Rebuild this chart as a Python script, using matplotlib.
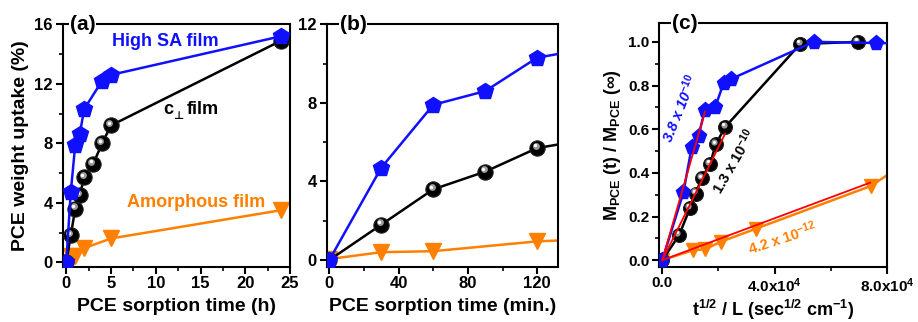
import matplotlib
matplotlib.use("Agg")
import matplotlib.pyplot as plt
import matplotlib.transforms as mtransforms
from matplotlib.ticker import MultipleLocator

plt.rcParams["font.family"] = ["Liberation Sans", "DejaVu Sans"]
plt.rcParams["font.weight"] = "bold"
plt.rcParams["mathtext.fontset"] = "custom"
plt.rcParams["mathtext.rm"] = "Liberation Sans:bold"
plt.rcParams["mathtext.bf"] = "Liberation Sans:bold"
plt.rcParams["mathtext.it"] = "Liberation Sans:bold:italic"
plt.rcParams["mathtext.default"] = "rm"

BLUE = "#1010ff"
ORANGE = "#ff8000"
RED = "#ff0000"

# uptake vs time (hours); panel (b) is the same data in minutes
high_sa_t = [0, 0.5, 1, 1.5, 2, 4, 5, 24]
high_sa_w = [0, 4.7, 7.9, 8.6, 10.3, 12.2, 12.6, 15.2]
cperp_t = [0, 0.5, 1, 1.5, 2, 3, 4, 5, 24]
cperp_w = [0, 1.8, 3.6, 4.5, 5.7, 6.6, 8.0, 9.2, 14.9]
amorph_t = [0, 0.5, 1, 2, 5, 24]
amorph_w = [0.05, 0.4, 0.45, 0.95, 1.6, 3.5]

# normalised uptake vs t^1/2 / L
high_sa_x = [0, 0.75e4, 1.05e4, 1.29e4, 1.52e4, 1.88e4, 2.18e4, 2.45e4, 5.39e4, 7.6e4, 9.5e4]
high_sa_m = [0, 0.31, 0.52, 0.57, 0.69, 0.70, 0.81, 0.83, 1.0, 0.995, 0.99]
cperp_x = [0, 0.6e4, 0.99e4, 1.19e4, 1.4e4, 1.7e4, 1.9e4, 2.24e4, 4.91e4, 6.96e4]
cperp_m = [0, 0.115, 0.24, 0.305, 0.375, 0.44, 0.53, 0.61, 0.99, 1.0]
amorph_x = [0, 1.08e4, 1.52e4, 2.1e4, 3.35e4, 7.43e4, 9.0e4]
amorph_m = [0, 0.045, 0.05, 0.085, 0.145, 0.34, 0.475]
n_markers_c = [10, 10, 6]  # last point(s) lie outside the axis

# linear fits (red) and diffusion coefficients
fit_sa_x, fit_sa_m = [0, 1.52e4], [0, 0.68]
fit_cp_x, fit_cp_m = [0, 2.24e4], [0, 0.58]
fit_am_x, fit_am_m = [0, 7.4e4], [0, 0.355]
d_labels = [r"3.8 x 10$^{-10}$", r"1.3 x 10$^{-10}$", r"4.2 x 10$^{-12}$"]


def sphere(ax, x, y, ms, n=None):
    """Black glossy balls: dark disc with a light highlight."""
    if n is not None:
        x, y = x[:n], y[:n]
    ax.plot(x, y, "o", ms=ms, color="black", mec="#202020", mew=0.8, zorder=3)
    fig = ax.figure
    off = mtransforms.offset_copy(ax.transData, fig=fig, x=-1.2, y=1.6, units="points")
    ax.plot(x, y, "o", ms=ms * 0.45, color="#9a9a9a", mew=0, transform=off, zorder=3)
    off2 = mtransforms.offset_copy(ax.transData, fig=fig, x=-1.5, y=2.0, units="points")
    ax.plot(x, y, "o", ms=ms * 0.22, color="white", mew=0, transform=off2, zorder=3)


def style(ax, label):
    for s in ax.spines.values():
        s.set_linewidth(1.5)
    ax.tick_params(which="major", direction="out", length=5, width=1.5, labelsize=12, pad=2)
    ax.tick_params(which="minor", direction="out", length=3, width=1.2)
    ax.text(label[1], 1.0, label[0], transform=ax.transAxes, fontsize=15, fontweight="bold",
            ha="left", va="center", zorder=10,
            bbox=dict(facecolor="white", edgecolor="none", pad=0.5))


fig = plt.figure(figsize=(9.18, 3.22), dpi=100)
ax_a = fig.add_axes([0.0683, 0.1717, 0.2477, 0.7528])
ax_b = fig.add_axes([0.3559, 0.1717, 0.2519, 0.7528])
ax_c = fig.add_axes([0.7182, 0.1717, 0.2480, 0.7559])

# (a)
ax_a.plot(amorph_t, amorph_w, "-", color=ORANGE, lw=1.8, marker="v", ms=11, zorder=2)
ax_a.plot(cperp_t, cperp_w, "-", color="black", lw=1.8, zorder=2)
sphere(ax_a, cperp_t, cperp_w, 11)
ax_a.plot(high_sa_t, high_sa_w, "-", color=BLUE, lw=1.8, marker="p", ms=12, zorder=4)
ax_a.set_xlim(-0.4, 25)
ax_a.set_ylim(-0.3, 16)
ax_a.xaxis.set_major_locator(MultipleLocator(5))
ax_a.xaxis.set_minor_locator(MultipleLocator(2.5))
ax_a.yaxis.set_major_locator(MultipleLocator(4))
ax_a.yaxis.set_minor_locator(MultipleLocator(2))
ax_a.set_xlabel("PCE sorption time (h)", fontsize=14, fontweight="bold", labelpad=5)
ax_a.set_ylabel("PCE weight uptake (%)", fontsize=14, fontweight="bold", labelpad=4)
ax_a.text(11.1, 14.85, "High SA film", color=BLUE, fontsize=13, fontweight="bold", ha="center", va="center")
# c with a perpendicular-sign subscript, then "film"
ax_a.annotate("c", (10.85, 10.26), color="black", fontsize=13, fontweight="bold", ha="left", va="center")
ax_a.annotate("\u22a5", (10.85, 10.26), xytext=(6.8, -4.5), textcoords="offset points",
              family="DejaVu Sans", color="black", fontsize=8, fontweight="bold", ha="left", va="center")
ax_a.annotate("film", (10.85, 10.26), xytext=(17, 0), textcoords="offset points",
              color="black", fontsize=13, fontweight="bold", ha="left", va="center")
ax_a.text(14.5, 4.05, "Amorphous film", color=ORANGE, fontsize=13, fontweight="bold", ha="center", va="center")
style(ax_a, ("(a)", 0.032))

# (b)
to_min = lambda ts: [t * 60 for t in ts]
ax_b.plot(to_min(amorph_t), amorph_w, "-", color=ORANGE, lw=1.8, marker="v", ms=11, zorder=2)
ax_b.plot(to_min(cperp_t), cperp_w, "-", color="black", lw=1.8, zorder=2)
sphere(ax_b, to_min(cperp_t), cperp_w, 11)
ax_b.plot(to_min(high_sa_t), high_sa_w, "-", color=BLUE, lw=1.8, marker="p", ms=12, zorder=4)
ax_b.set_xlim(-1.5, 132)
ax_b.set_ylim(-0.34, 12)
ax_b.xaxis.set_major_locator(MultipleLocator(40))
ax_b.xaxis.set_minor_locator(MultipleLocator(20))
ax_b.yaxis.set_major_locator(MultipleLocator(4))
ax_b.yaxis.set_minor_locator(MultipleLocator(2))
ax_b.set_xlabel("PCE sorption time (min.)", fontsize=14, fontweight="bold", labelpad=5)
style(ax_b, ("(b)", 0.057))

# (c)
ax_c.plot(amorph_x, amorph_m, "-", color=ORANGE, lw=1.8, zorder=2)
ax_c.plot(amorph_x[:n_markers_c[2]], amorph_m[:n_markers_c[2]], "v", color=ORANGE, ms=10, zorder=2)
ax_c.plot(cperp_x, cperp_m, "-", color="black", lw=1.8, zorder=2)
sphere(ax_c, cperp_x, cperp_m, 10, n_markers_c[1])
ax_c.plot(high_sa_x, high_sa_m, "-", color=BLUE, lw=1.8, zorder=4)
ax_c.plot(high_sa_x[:n_markers_c[0]], high_sa_m[:n_markers_c[0]], "p", color=BLUE, ms=11, zorder=4)
for fx, fm in [(fit_sa_x, fit_sa_m), (fit_cp_x, fit_cp_m), (fit_am_x, fit_am_m)]:
    ax_c.plot(fx, fm, "-", color=RED, lw=1.3, zorder=6)
ax_c.text(0.63e4, 0.696, d_labels[0], color=BLUE, fontsize=10.5, fontweight="bold", style="italic",
          rotation=68, ha="center", va="center", zorder=7)
ax_c.text(2.56e4, 0.453, d_labels[1], color="black", fontsize=10.5, fontweight="bold",
          rotation=60, ha="center", va="center", zorder=7)
ax_c.text(4.27e4, 0.10, d_labels[2], color=ORANGE, fontsize=10.5, fontweight="bold",
          rotation=18, ha="center", va="center", zorder=7)
ax_c.set_xlim(-1070, 8e4)
ax_c.set_ylim(-0.03, 1.085)
ax_c.set_xticks([0, 4e4, 8e4], ["0.0", r"4.0x10$^{4}$", r"8.0x10$^{4}$"])
ax_c.xaxis.set_minor_locator(MultipleLocator(2e4))
ax_c.yaxis.set_major_locator(MultipleLocator(0.2))
ax_c.yaxis.set_minor_locator(MultipleLocator(0.1))
ax_c.yaxis.set_major_formatter(plt.FormatStrFormatter("%.1f"))
ax_c.set_xlabel(r"t$^{1/2}$ / L (sec$^{1/2}$ cm$^{-1}$)", fontsize=13, fontweight="bold", labelpad=2)
ax_c.set_ylabel(r"M$_{PCE}$ (t) / M$_{PCE}$ ($\infty$)", fontsize=13, fontweight="bold", labelpad=4)
style(ax_c, ("(c)", 0.054))
ax_c.tick_params(which="major", labelsize=11)

fig.savefig("out.png", dpi=100)
